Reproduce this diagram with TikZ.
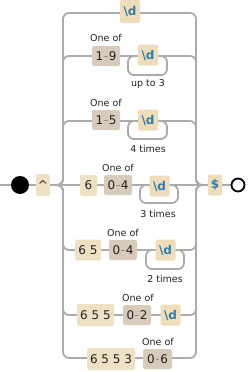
\documentclass[tikz,border=0pt]{standalone}
\usepackage{fontspec}
\setmainfont{DejaVu Sans}
\definecolor{railgray}{HTML}{ABABAB}
\definecolor{litfill}{HTML}{EFE2C4}
\definecolor{setfill}{HTML}{D9CBBC}
\definecolor{escfill}{HTML}{EEDDB8}
\definecolor{esctext}{HTML}{2F7DA8}
\definecolor{txtdark}{HTML}{222222}
\definecolor{dashcol}{HTML}{9A9088}
\newcommand{\rng}[2]{#1\hspace{1.2pt}\textcolor{dashcol}{\rule[3.4pt]{3.2pt}{1pt}}\hspace{1.2pt}#2}
\newcommand{\escd}{\textbf{\color{esctext}\textbackslash d}}
\tikzset{
  rail/.style={draw=railgray, line width=1.8pt, rounded corners=6pt},
  litbox/.style={fill=litfill, rounded corners=2pt, inner sep=0pt, minimum height=21pt, font=\fontsize{12}{12}\selectfont, text=txtdark},
  setbox/.style={fill=setfill, rounded corners=2pt, inner sep=0pt, minimum height=20pt, minimum width=28pt, font=\fontsize{12}{12}\selectfont, text=txtdark},
  escbox/.style={fill=escfill, rounded corners=2pt, inner sep=0pt, minimum height=21pt, minimum width=20pt, font=\fontsize{12}{12}\selectfont},
  lbl/.style={font=\fontsize{9.5}{9.5}\selectfont, text=txtdark, inner sep=0pt},
}
\begin{document}
\begin{tikzpicture}[x=1pt,y=-1pt]
\useasboundingbox (0,0) rectangle (248,372);
% rails behind
\foreach \yy in {13,56,121,250,315,358}{
  \draw[rail] (52,185) -| (63,\yy) -- (130,\yy);
  \draw[rail] (206,185) -| (196,\yy) -- (130,\yy);
}
\draw[rail] (0,185) -- (238,185);
% loops
\draw[rail] (138,56) -- (128,56) -- (128,75) -- (167,75) -- (167,56) -- (158,56);
\draw[rail] (138,121) -- (128,121) -- (128,139) -- (167,139) -- (167,121) -- (158,121);
\draw[rail] (150,185) -- (140,185) -- (140,203) -- (178,203) -- (178,185) -- (170,185);
\draw[rail] (156,250) -- (146,250) -- (146,269) -- (184,269) -- (184,250) -- (176,250);

% start / end
\node[circle, fill=black, minimum size=18pt, inner sep=0pt] (start) at (20,185) {};
\node[circle, draw=black, fill=white, line width=1.8pt, minimum size=13pt, inner sep=0pt] (end) at (238,185) {};
\node[litbox, minimum width=14pt, minimum height=22pt] (caret) at (43,185) {\textasciicircum};
\node[escbox, minimum width=14pt] (dollar) at (215,185) {\textbf{\color{esctext}\$}};

% branch 1
\node[escbox, minimum height=23pt] (d1) at (130,11.5) {\escd};
% branch 2
\node[setbox] (s2) at (106,56) {\rng{1}{9}};
\node[lbl] (o2) at (106,38) {One of};
\node[escbox] (d2) at (148,55) {\escd};
\node[lbl] (t2) at (148,84) {up to 3};
% branch 3
\node[setbox] (s3) at (106,120) {\rng{1}{5}};
\node[lbl] (o3) at (106,103) {One of};
\node[escbox] (d3) at (148,120) {\escd};
\node[lbl] (t3) at (148,149) {4 times};
% branch 4
\node[litbox, minimum width=17pt] (l4) at (88.5,185.5) {6};
\node[setbox] (s4) at (118,185) {\rng{0}{4}};
\node[lbl] (o4) at (118,168) {One of};
\node[escbox] (d4) at (159.5,186) {\escd};
\node[lbl] (t4) at (158,214) {3 times};
% branch 5
\node[litbox, minimum width=26pt] (l5) at (88,250) {6 5};
\node[setbox] (s5) at (123,250) {\rng{0}{4}};
\node[lbl] (o5) at (123,233) {One of};
\node[escbox] (d5) at (165.5,250) {\escd};
\node[lbl] (t5) at (165,279) {2 times};
% branch 6
\node[litbox, minimum width=37pt, minimum height=22pt] (l6) at (95.5,315) {6 5 5};
\node[setbox] (s6) at (137,315) {\rng{0}{2}};
\node[lbl] (o6) at (138,298) {One of};
\node[escbox] (d6) at (170.5,315) {\escd};
% branch 7
\node[litbox, minimum width=48pt, minimum height=22pt] (l7) at (111,359) {6 5 5 3};
\node[setbox, minimum width=29pt] (s7) at (157.5,359) {\rng{0}{6}};
\node[lbl] (o7) at (158,342) {One of};
\end{tikzpicture}
\end{document}
